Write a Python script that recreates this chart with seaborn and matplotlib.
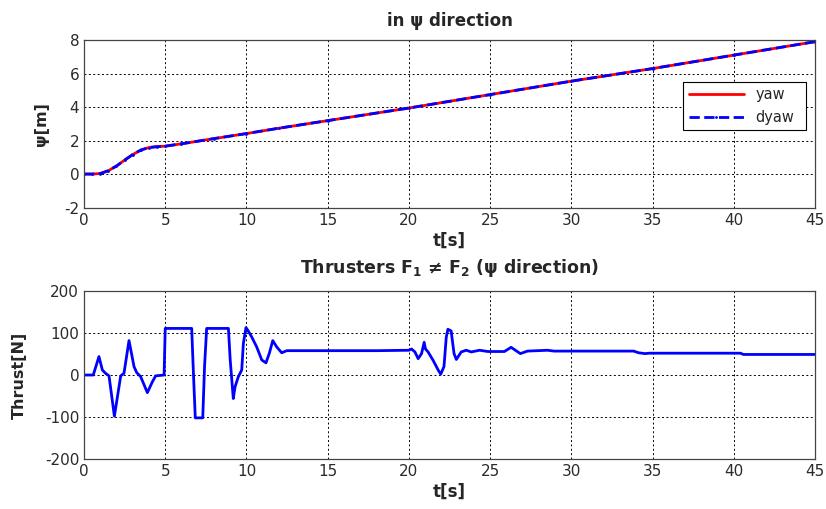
import numpy as np
import pandas as pd
import matplotlib
matplotlib.use("Agg")
import matplotlib.pyplot as plt
import seaborn as sns

# ---------------- data ----------------
t_yaw = [0, 0.5, 1.0, 1.5, 2.0, 2.5, 3.0, 3.5, 4.0, 4.5, 5.0, 6, 8, 10, 12, 15,
         20, 25, 30, 35, 40, 45]
yaw = [0.02, 0.02, 0.05, 0.22, 0.5, 0.85, 1.18, 1.45, 1.6, 1.65, 1.68, 1.82,
       2.13, 2.43, 2.75, 3.2, 3.95, 4.75, 5.55, 6.3, 7.1, 7.9]
dyaw = [0.02, 0.02, 0.05, 0.22, 0.5, 0.85, 1.18, 1.45, 1.6, 1.65, 1.68, 1.82,
        2.13, 2.43, 2.75, 3.2, 3.95, 4.75, 5.55, 6.3, 7.1, 7.9]

t_thr = [0, 0.57, 0.92, 1.13, 1.33, 1.54, 1.87, 2.26, 2.46, 2.77, 3.08, 3.24,
         3.49, 3.9, 4.21, 4.41, 4.93, 5.0, 6.63, 6.72, 6.85, 7.31, 7.42, 7.55,
         8.89, 9.0, 9.19, 9.3, 9.5, 9.71, 9.81, 9.97, 10.11, 10.32, 10.63,
         10.94, 11.2, 11.41, 11.62, 11.86, 12.17, 12.48, 14, 16, 18, 20.0,
         20.16, 20.37, 20.57, 20.78, 20.94, 21.02, 21.18, 21.49, 21.8, 21.96,
         22.16, 22.3, 22.4, 22.6, 22.78, 22.92, 23.22, 23.53, 23.84, 24.35,
         24.86, 25.88, 26.29, 26.86, 27.3, 28.53, 28.94, 33.84, 34.14, 34.55,
         34.8, 40.4, 40.6, 45]
thrust = [0, 0, 44, 12, 4, -2, -98, -2, 4, 82, 20, 6,
          -4, -42, -16, -2, 0, 111, 111, 20, -102, -102, 20, 111,
          111, 36, -56, -28, -4, 12, 75, 113, 105, 91, 67,
          36, 29, 52, 82, 67, 53, 58, 58, 58, 58, 59,
          62, 55, 39, 51, 78, 62, 55, 35, 12, 2,
          20, 90, 109, 105, 51, 37, 55, 59, 55, 59,
          56, 56, 66, 51, 57, 59, 57, 57, 53, 51,
          52, 52, 49, 49]

x_ticks = [0, 5, 10, 15, 20, 25, 30, 35, 40, 45]
y_ticks_top = [-2, 0, 2, 4, 6, 8]
y_ticks_bot = [-200, -100, 0, 100, 200]

# ---------------- style ----------------
sns.set_theme(style="white")
plt.rcParams['font.family'] = ['DejaVu Sans']
plt.rcParams['mathtext.fontset'] = 'dejavusans'

fig = plt.figure(figsize=(8.26, 5.09), dpi=100)
fig.patch.set_facecolor('white')
ax1 = fig.add_axes([0.1017, 0.5914, 0.885, 0.330])
ax2 = fig.add_axes([0.1017, 0.0982, 0.885, 0.330])

df_top = pd.DataFrame({'t': t_yaw, 'yaw': yaw, 'dyaw': dyaw})
df_bot = pd.DataFrame({'t': t_thr, 'thrust': thrust})

sns.lineplot(data=df_top, x='t', y='yaw', ax=ax1, color='#ff0000', lw=2.0,
             label='yaw', sort=False)
sns.lineplot(data=df_top, x='t', y='dyaw', ax=ax1, color='#0000ff', lw=2.0,
             linestyle='--', dashes=(2.5, 1.5), marker='.', markersize=4,
             markeredgewidth=0, label='dyaw', sort=False)
sns.lineplot(data=df_bot, x='t', y='thrust', ax=ax2, color='#0000ff', lw=2.0,
             sort=False)

for ax, yt in ((ax1, y_ticks_top), (ax2, y_ticks_bot)):
    ax.set_facecolor('white')
    ax.set_xlim(0, 45)
    ax.set_ylim(yt[0], yt[-1])
    ax.set_xticks(x_ticks)
    ax.set_yticks(yt)
    ax.set_xticklabels([str(v) for v in x_ticks])
    ax.set_yticklabels([str(v) for v in yt])
    ax.grid(True, color='black', linestyle=(0, (2, 2.5)), linewidth=0.7)
    ax.set_axisbelow(True)
    ax.tick_params(direction='in', length=3, width=0.6, colors='#333333',
                   labelsize=11, labelcolor='#2a2a2a', pad=3.5)
    for s in ax.spines.values():
        s.set_color('#444444')
        s.set_linewidth(0.9)
    ax.set_xlabel('t[s]', fontsize=12, fontweight='bold', labelpad=3)

ax1.set_ylabel('ψ[m]', fontsize=11.5, fontweight='bold', labelpad=10.5)
ax2.set_ylabel('Thrust[N]', fontsize=11.5, fontweight='bold', labelpad=13)
ax1.set_title('in ψ direction', fontsize=12, fontweight='bold', pad=10)
ax2.set_title(r'Thrusters F$_\mathbf{1}$ ≠ F$_\mathbf{2}$ (ψ direction)',
              fontsize=12.5, fontweight='bold', pad=13)

leg = ax1.legend(loc='upper left', bbox_to_anchor=(0.82, 0.75, 0.168, 0.0),
                 mode='expand', fontsize=10.5, frameon=True, fancybox=False,
                 handlelength=3.8, borderpad=0.35, labelspacing=0.55,
                 borderaxespad=0)
leg.get_frame().set_edgecolor('black')
leg.get_frame().set_linewidth(0.8)
leg.get_frame().set_alpha(1)

fig.savefig('out.png', dpi=100, facecolor='white')
